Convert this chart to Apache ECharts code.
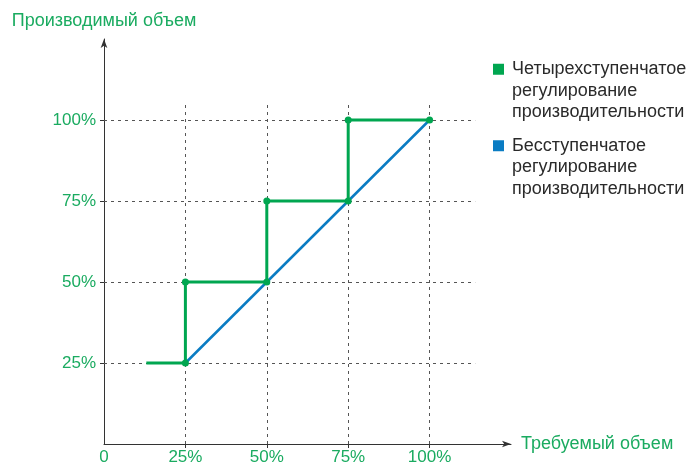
<!DOCTYPE html>
<html>
<head>
<meta charset="utf-8">
<script src="https://cdn.jsdelivr.net/npm/echarts@6/dist/echarts.min.js"></script>
<style>
  html, body { margin: 0; padding: 0; background: #fff; }
  #chart { width: 692px; height: 466px; }
</style>
</head>
<body>
<div id="chart"></div>
<script>
// данные графика
const tickValues = [25, 50, 75, 100]
const xLabelValues = [0, 25, 50, 75, 100]
const stepData = [[13, 25], [25, 25], [25, 50], [50, 50], [50, 75], [75, 75], [75, 100], [100, 100]]
const smoothData = [[25, 25], [100, 100]]
const seriesNames = ['Четырехступенчатое регулирование производительности', 'Бесступенчатое регулирование производительности']
const legendLines = {
  'Четырехступенчатое регулирование производительности': ['Четырехступенчатое', 'регулирование', 'производительности'],
  'Бесступенчатое регулирование производительности': ['Бесступенчатое', 'регулирование', 'производительности']
}
const gridEndX = 114 // где кончаются горизонтальные пунктиры
const gridEndY = 105 // где кончаются вертикальные пунктиры

const green = '#00a650'
const blue = '#0a7cc3'
const textGreen = '#1aab60'
const font = 'Liberation Sans'

const gridLines = []
tickValues.forEach(v => {
  gridLines.push([{ coord: [v, 0] }, { coord: [v, gridEndY] }])
  gridLines.push([{ coord: [0, v] }, { coord: [gridEndX, v] }])
})

const chart = echarts.init(document.getElementById('chart'))

chart.setOption({
  animation: false,
  textStyle: { fontFamily: font },
  grid: {
    left: 104,
    top: 39,
    right: 181,
    bottom: 21
  },
  legend: {
    orient: 'vertical',
    left: 493,
    top: 14.5,
    padding: 0,
    itemGap: -33,
    itemWidth: 11,
    itemHeight: 11,
    icon: 'rect',
    selectedMode: false,
    data: seriesNames,
    formatter: name => '\n\n' + legendLines[name].join('\n'),
    textStyle: {
      fontFamily: font,
      fontSize: 18,
      lineHeight: 21.5,
      color: '#2a2a2a',
      padding: [2, 0, 0, 3]
    }
  },
  xAxis: {
    type: 'value',
    min: 0,
    max: 125,
    interval: 25,
    name: 'Требуемый объем',
    nameLocation: 'end',
    nameGap: 10,
    nameTextStyle: { color: textGreen, fontSize: 18, fontFamily: font, padding: [0, 0, 4, 0] },
    axisLine: {
      show: true,
      symbol: ['none', 'arrow'],
      symbolSize: [5, 9],
      lineStyle: { color: '#333', width: 1 }
    },
    axisTick: {
      show: true,
      length: 4,
      customValues: tickValues,
      lineStyle: { color: '#333' }
    },
    axisLabel: {
      margin: 5,
      color: textGreen,
      fontSize: 17,
      customValues: xLabelValues,
      formatter: v => (v === 0 ? '0' : v + '%')
    },
    splitLine: { show: false }
  },
  yAxis: {
    type: 'value',
    min: 0,
    max: 125,
    interval: 25,
    name: 'Производимый объем',
    nameLocation: 'end',
    nameGap: 9,
    nameTextStyle: { color: textGreen, fontSize: 18, fontFamily: font, align: 'center' },
    axisLine: {
      show: true,
      symbol: ['none', 'arrow'],
      symbolSize: [5, 9],
      lineStyle: { color: '#333', width: 1 }
    },
    axisTick: {
      show: true,
      length: 4,
      customValues: tickValues,
      lineStyle: { color: '#333' }
    },
    axisLabel: {
      margin: 8,
      color: textGreen,
      fontSize: 17,
      customValues: tickValues,
      formatter: v => v + '%'
    },
    splitLine: { show: false }
  },
  series: [
    {
      name: seriesNames[1],
      type: 'line',
      data: smoothData,
      showSymbol: false,
      symbol: 'none',
      itemStyle: { color: blue },
      lineStyle: { color: blue, width: 2.5 },
      z: 2,
      markLine: {
        silent: true,
        symbol: 'none',
        label: { show: false },
        lineStyle: { color: '#555', width: 1, type: [3, 4] },
        data: gridLines,
        z: 1
      }
    },
    {
      name: seriesNames[0],
      type: 'line',
      data: stepData,
      symbol: 'circle',
      symbolSize: (val, params) => (params.dataIndex === 0 ? 0 : 7),
      showAllSymbol: true,
      itemStyle: { color: green },
      lineStyle: { color: green, width: 3 },
      z: 3
    }
  ]
})
</script>
</body>
</html>
